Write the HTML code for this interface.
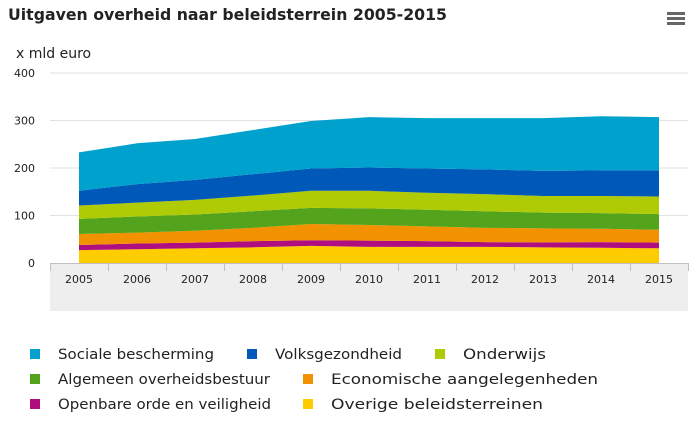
<!DOCTYPE html>
<html><head><meta charset="utf-8"><style>
body{margin:0;background:#fff}
svg{display:block;font-family:"DejaVu Sans","Liberation Sans",sans-serif}
</style></head><body>
<svg id="c" width="698" height="423">
<text x="8" y="20" font-size="16" font-weight="bold" fill="#222" textLength="439" lengthAdjust="spacingAndGlyphs">Uitgaven overheid naar beleidsterrein 2005-2015</text>
<text x="16" y="58" font-size="14" fill="#222">x mld euro</text>
<g>
<rect x="667" y="12" width="18" height="3" fill="#666"/><rect x="667" y="17" width="18" height="3" fill="#666"/><rect x="667" y="22" width="18" height="3" fill="#666"/>
</g>
<rect x="50" y="263" width="638" height="48" fill="#eeeeee"/>
<g id="grid"></g><g id="areas"></g><g id="xaxis"></g><g id="legend"></g>
</svg>
<script>
const years=["2005","2006","2007","2008","2009","2010","2011","2012","2013","2014","2015"];
const yTicks=[0,100,200,300,400];
const overige=[27,29,31,33,36,34,34,34,33,32,31];
const orde=[11,12,12,13,12,13,12,10,10.5,12,12];
const econ=[23,23,25,28,34,33,31,30,29.5,28,27];
const algemeen=[32,34,34,35,34,35,35,35,33,33,33];
const onderwijs=[28,29,31,33,36,37,36,36,35,36,37];
const volks=[31,39,42,45,47,49,51,52,53,54,55];
const sociale=[81,86,86,93,100,106,106,108,111,114,112];
const seriesNames=["Sociale bescherming","Volksgezondheid","Onderwijs","Algemeen overheidsbestuur","Economische aangelegenheden","Openbare orde en veiligheid","Overige beleidsterreinen"];
const ns="http://www.w3.org/2000/svg";
const X0=50,X1=688,Y0=263,YH=47.5;
const bw=(X1-X0)/years.length;
const xs=i=>X0+bw*(i+0.5);
const ys=v=>Y0-v*YH/100;
function mk(t,a,p){const e=document.createElementNS(ns,t);for(const k in a)e.setAttribute(k,a[k]);p.appendChild(e);return e;}
const grid=document.getElementById('grid');
yTicks.forEach(t=>{
 if(t>0){const l=mk('line',{x1:X0,x2:X1,y1:ys(t),y2:ys(t),stroke:'#e2e2e2'},grid);
 
 }
 const tx=mk('text',{x:35,y:ys(t)+4,'font-size':11,'text-anchor':'end',fill:'#222'},grid);tx.textContent=t;
 
 
});
const stackOrder=[overige,orde,econ,algemeen,onderwijs,volks,sociale];
const colors=["#ffcc00","#af0e80","#f39200","#53a31d","#afcb05","#0058b8","#00a1cd"];
const keys=["overige","orde","economie","algemeen","onderwijs","volksgezondheid","sociale"];
const areas=document.getElementById('areas');
let base=years.map(()=>0);
stackOrder.forEach((s,k)=>{
 const top=base.map((b,i)=>b+s[i]);
 let d='M'+years.map((_,i)=>xs(i)+','+ys(top[i])).join('L');
 for(let i=years.length-1;i>=0;i--)d+='L'+xs(i)+','+ys(base[i]);
 const p=mk('path',{d:d+'Z',fill:colors[k]},areas);
 
 
 base=top;
});
const xa=document.getElementById('xaxis');
mk('line',{x1:X0,x2:X1,y1:Y0+0.5,y2:Y0+0.5,stroke:'#c0c0c0'},xa);
for(let i=0;i<=years.length;i++){mk('line',{x1:X0+bw*i+0.5,x2:X0+bw*i+0.5,y1:Y0,y2:Y0+8,stroke:'#c0c0c0'},xa);}
years.forEach((y,i)=>{const t=mk('text',{x:xs(i),y:Y0+20,'font-size':11,'text-anchor':'middle',fill:'#222'},xa);t.textContent=y;
 
 });
const lg=document.getElementById('legend');
const legColors=["#00a1cd","#0058b8","#afcb05","#53a31d","#f39200","#af0e80","#ffcc00"];
const pos=[[30,354,156],[247,354,127],[435,354,83],[30,379,212],[303,379,267],[30,404,213],[303,404,212]];
seriesNames.forEach((n,i)=>{
 const [x,y,w]=pos[i];
 const g=mk('g',{},lg);
 
 
 mk('rect',{x:x,y:y-5,width:10,height:10,fill:legColors[i]},g);
 const t=mk('text',{x:x+28,y:y+5,'font-size':14,fill:'#222',textLength:w,lengthAdjust:'spacingAndGlyphs'},g);t.textContent=n;
});
</script>
</body></html>
